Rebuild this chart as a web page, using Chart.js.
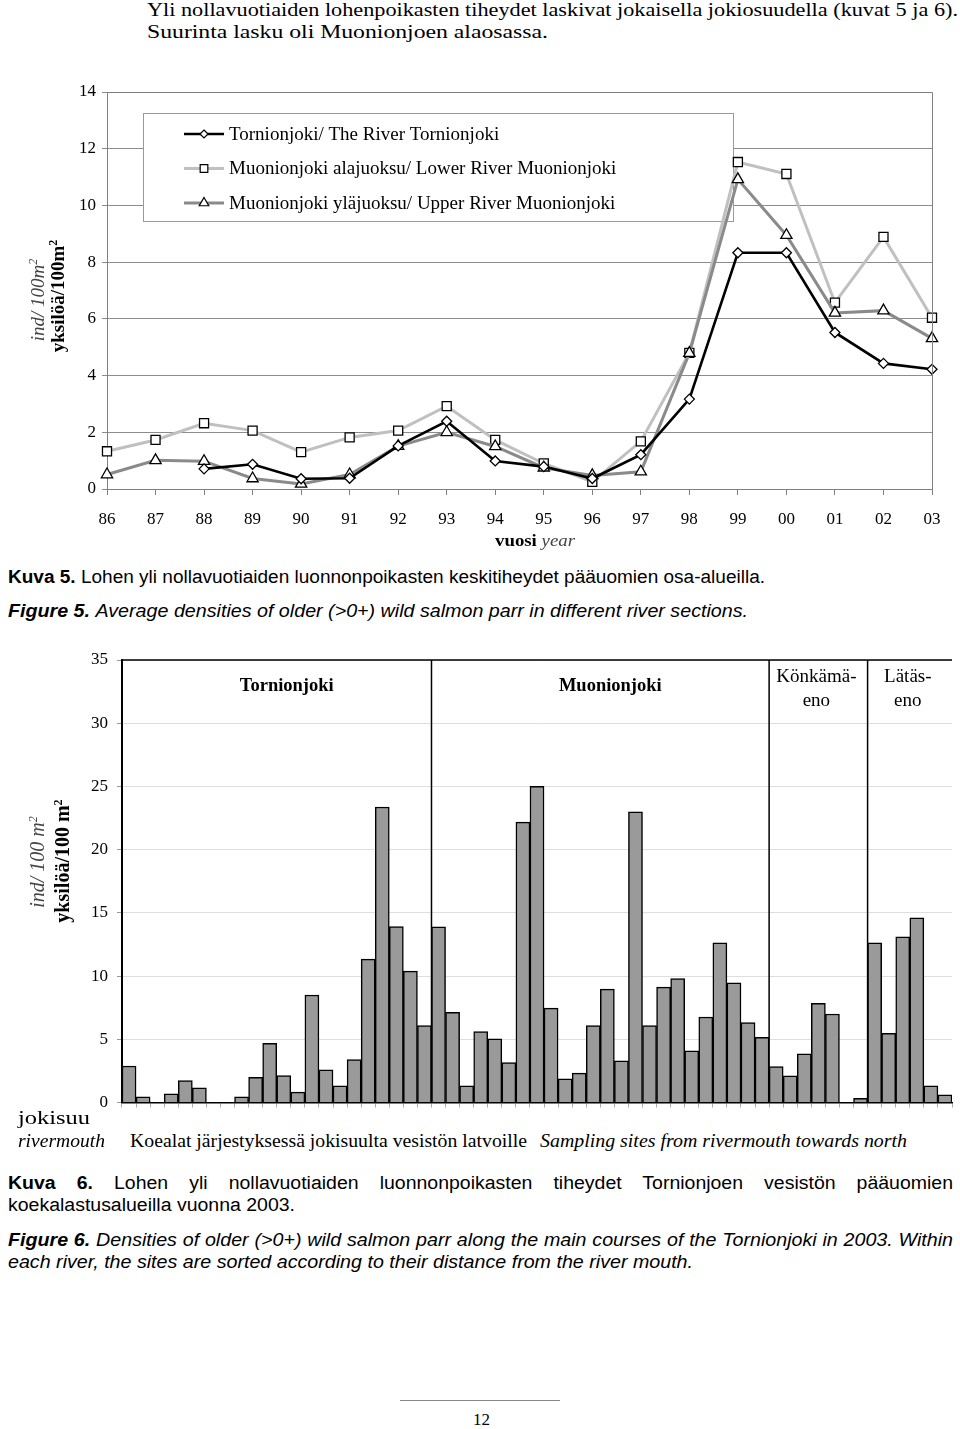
<!DOCTYPE html>
<html>
<head>
<meta charset="utf-8">
<script src="https://cdn.jsdelivr.net/npm/chart.js@4.4.1/dist/chart.umd.min.js"></script>
<style>
  body { margin: 0; background: #fff; }
  #page { position: relative; width: 960px; height: 1429px; overflow: hidden; color: #000; }
  .t { position: absolute; white-space: nowrap; transform-origin: left center; line-height: 1; }
  .serif { font-family: "Liberation Serif", "Times New Roman", serif; }
  .sans { font-family: "Liberation Sans", Arial, sans-serif; }
  .vt { position: absolute; white-space: nowrap; line-height: 1; font-size: 19px;
        font-family: "Liberation Serif", serif; transform: translate(-50%, -50%) rotate(-90deg); }
  .vt.it { font-style: italic; color: #444; }
  .vt.bd { font-weight: bold; }
  canvas { position: absolute; left: 0; }
</style>
</head>
<body>
<div id="page">
  <div class="t serif" style="font-size:19px;left:147px;top:0px" data-w="811">Yli nollavuotiaiden lohenpoikasten tiheydet laskivat jokaisella jokiosuudella (kuvat 5 ja 6).</div>
  <div class="t serif" style="font-size:19px;left:147px;top:22px" data-w="401">Suurinta lasku oli Muonionjoen alaosassa.</div>

  <canvas id="lineChart" width="960" height="500" style="top:60px"></canvas>
  <div class="vt it" style="left:37px;top:300px">ind/ 100m<sup style="font-size:12px">2</sup></div>
  <div class="vt bd" style="left:57px;top:296px">yksilöä/100m<sup style="font-size:12px">2</sup></div>
  <div class="t serif" style="font-size:17px;left:495px;top:532px" data-w="80"><b>vuosi</b> <i style="color:#444">year</i></div>

  <div class="t sans" style="font-size:18px;left:8px;top:568px" data-w="757"><b>Kuva 5.</b> Lohen yli nollavuotiaiden luonnonpoikasten keskitiheydet pääuomien osa-alueilla.</div>
  <div class="t sans" style="font-size:18px;left:8px;top:602px" data-w="740"><b><i>Figure 5.</i></b> <i>Average densities of older (&gt;0+) wild salmon parr in different river sections.</i></div>

  <canvas id="barChart" width="960" height="500" style="top:630px"></canvas>
  <div class="vt it" style="left:37px;top:862px;font-size:20px">ind/ 100 m<sup style="font-size:12px">2</sup></div>
  <div class="vt bd" style="left:62px;top:861px;font-size:20px">yksilöä/100 m<sup style="font-size:12px">2</sup></div>
  <div class="t serif" style="font-size:18px;left:18px;top:1109px" data-w="72">jokisuu</div>
  <div class="t serif" style="font-size:18px;left:18px;top:1132px;font-style:italic" data-w="87">rivermouth</div>
  <div class="t serif" style="font-size:18px;left:130px;top:1132px" data-w="397">Koealat järjestyksessä jokisuulta vesistön latvoille</div>
  <div class="t serif" style="font-size:18px;left:540px;top:1132px;font-style:italic" data-w="367">Sampling sites from rivermouth towards north</div>

  <div class="t sans" style="font-size:18px;left:8px;top:1174px" data-j="945" data-ref="k6b"><b>Kuva 6.</b> Lohen yli nollavuotiaiden luonnonpoikasten tiheydet Tornionjoen vesistön pääuomien</div>
  <div class="t sans" id="k6b" style="font-size:18px;left:8px;top:1196px" data-w="287">koekalastusalueilla vuonna 2003.</div>
  <div class="t sans" style="font-size:18px;left:8px;top:1231px;font-style:italic" data-j="945" data-ref="f6b"><b>Figure 6.</b> Densities of older (&gt;0+) wild salmon parr along the main courses of the Tornionjoki in 2003. Within</div>
  <div class="t sans" id="f6b" style="font-size:18px;left:8px;top:1253px;font-style:italic" data-w="685">each river, the sites are sorted according to their distance from the river mouth.</div>

  <div style="position:absolute;left:400px;top:1400px;width:160px;border-top:1px solid #888"></div>
  <div class="t serif" style="font-size:17px;left:473px;top:1411px">12</div>
</div>
<script>
// Kuva 5: keskitiheydet vuosittain
const years = ["86", "87", "88", "89", "90", "91", "92", "93", "94", "95", "96", "97", "98", "99", "00", "01", "02", "03"];
const tornionjoki = [null, null, 0.71, 0.87, 0.36, 0.38, 1.52, 2.39, 0.99, 0.79, 0.37, 1.21, 3.17, 8.33, 8.33, 5.52, 4.43, 4.22];
const muonioLower = [1.33, 1.73, 2.32, 2.06, 1.30, 1.82, 2.06, 2.92, 1.73, 0.90, 0.25, 1.68, 4.80, 11.53, 11.11, 6.57, 8.89, 6.04];
const muonioUpper = [0.51, 1.01, 0.98, 0.37, 0.18, 0.51, 1.51, 2.00, 1.50, 0.75, 0.48, 0.61, 4.79, 10.92, 8.95, 6.21, 6.29, 5.31];
const seriesNames = [
  "Tornionjoki/ The River Tornionjoki",
  "Muonionjoki alajuoksu/ Lower River Muonionjoki",
  "Muonionjoki yläjuoksu/ Upper River Muonionjoki",
];

// Kuva 6: koealat jokisuulta latvoille, 2003
const tornioSites = [2.89, 0.45, 0, 0.68, 1.74, 1.16, 0, 0, 0.45, 2.0, 4.68, 2.13, 0.82, 8.5, 2.58, 1.32, 3.39, 11.34, 23.37, 13.92, 10.39, 6.08];
const muonioSites = [13.9, 7.13, 1.32, 5.6, 5.03, 3.16, 22.18, 25.0, 7.47, 1.87, 2.32, 6.08, 8.97, 3.29, 23.0, 6.08, 9.13, 9.8, 4.08, 6.76, 12.63, 9.47, 6.32, 5.16];
const konkamaSites = [2.84, 2.1, 3.84, 7.84, 7.0, 0, 0.32];
const latasSites = [12.63, 5.47, 13.1, 14.6, 1.32, 0.6];
const sectionNames = [["Tornionjoki"], ["Muonionjoki"], ["Könkämä-", "eno"], ["Lätäs-", "eno"]];

const serif = '"Liberation Serif", "Times New Roman", serif';
const tickFont = { family: serif, size: 17 };

function drawMarker(ctx, style, r, x, y) {
  ctx.beginPath();
  if (style === "rectRot") {
    ctx.moveTo(x, y - r); ctx.lineTo(x + r, y); ctx.lineTo(x, y + r); ctx.lineTo(x - r, y);
  } else if (style === "rect") {
    const s = r * Math.SQRT1_2;
    ctx.rect(x - s, y - s, 2 * s, 2 * s);
  } else {
    const h = r * Math.sqrt(3) / 2;
    ctx.moveTo(x, y - r); ctx.lineTo(x + h, y + r / 2); ctx.lineTo(x - h, y + r / 2);
  }
  ctx.closePath();
  ctx.fill();
  ctx.stroke();
}

// legend inside the plot + frame on top/right
const boxLegend = {
  id: "boxLegend",
  beforeDatasetsDraw(chart) {
    const { ctx, chartArea } = chart;
    const top = chartArea.top + 21;
    ctx.save();
    ctx.fillStyle = "#fff";
    ctx.strokeStyle = "#9a9a9a";
    ctx.lineWidth = 1;
    ctx.fillRect(143, top, 590, 108);
    ctx.strokeRect(143.5, top + 0.5, 590, 108);
    chart.data.datasets.forEach((ds, i) => {
      const y = top + 21 + i * 34.5;
      ctx.strokeStyle = ds.borderColor;
      ctx.lineWidth = ds.borderWidth;
      ctx.beginPath();
      ctx.moveTo(184, y);
      ctx.lineTo(224, y);
      ctx.stroke();
      ctx.fillStyle = "#fff";
      ctx.strokeStyle = "#000";
      ctx.lineWidth = 1.2;
      drawMarker(ctx, ds.pointStyle, ds.pointRadius - 1, 204, y);
      ctx.fillStyle = "#000";
      ctx.font = "19px " + serif;
      ctx.textBaseline = "middle";
      ctx.fillText(ds.label, 229, y + 1);
    });
    ctx.restore();
  },
  afterDraw(chart) {
    const { ctx, chartArea } = chart;
    ctx.save();
    ctx.strokeStyle = "#808080";
    ctx.lineWidth = 1;
    ctx.beginPath();
    ctx.moveTo(chartArea.left, chartArea.top + 0.5);
    ctx.lineTo(chartArea.right + 0.5, chartArea.top + 0.5);
    ctx.lineTo(chartArea.right + 0.5, chartArea.bottom);
    ctx.stroke();
    ctx.restore();
  },
};

function markerSet(style, r) {
  return {
    pointStyle: style,
    pointRadius: r,
    pointBackgroundColor: "#fff",
    pointBorderColor: "#000",
    pointBorderWidth: 1.3,
  };
}

new Chart(document.getElementById("lineChart"), {
  type: "line",
  data: {
    labels: years,
    datasets: [
      { label: seriesNames[0], data: tornionjoki, borderColor: "#000", borderWidth: 2.6, order: 0, ...markerSet("rectRot", 5) },
      { label: seriesNames[1], data: muonioLower, borderColor: "#c0c0c0", borderWidth: 3, order: 2, ...markerSet("rect", 6.4) },
      { label: seriesNames[2], data: muonioUpper, borderColor: "#8a8a8a", borderWidth: 3, order: 1, ...markerSet("triangle", 6.5) },
    ],
  },
  options: {
    responsive: false,
    animation: false,
    devicePixelRatio: 1,
    layout: { padding: { top: 32, right: 28, left: 0, bottom: 0 } },
    plugins: { legend: { display: false }, tooltip: { enabled: false } },
    elements: { line: { tension: 0 } },
    scales: {
      x: {
        offset: false,
        grid: { drawOnChartArea: false, color: "#808080", tickLength: 6 },
        border: { color: "#808080" },
        ticks: { font: tickFont, color: "#000", padding: 14, maxRotation: 0, autoSkip: false },
        afterFit: (s) => { s.height = 71; },
      },
      y: {
        min: 0,
        max: 14,
        grid: { color: "#8c8c8c", tickLength: 5 },
        border: { color: "#808080" },
        ticks: { stepSize: 2, font: tickFont, color: "#000", padding: 6 },
        afterFit: (s) => { s.width = 107; },
      },
    },
  },
  plugins: [boxLegend],
});

const sections = [tornioSites, muonioSites, konkamaSites, latasSites];
const siteValues = sections.flat();
const siteLabels = siteValues.map((v, i) => String(i + 1));

// section dividers and names
const sectionMarks = {
  id: "sectionMarks",
  afterDatasetsDraw(chart) {
    const { ctx, chartArea } = chart;
    const x = chart.scales.x;
    ctx.save();
    ctx.strokeStyle = "#000";
    ctx.lineWidth = 1.5;
    ctx.beginPath();
    ctx.moveTo(chartArea.left, chartArea.top);
    ctx.lineTo(chartArea.right, chartArea.top);
    ctx.stroke();
    let start = 0;
    sections.forEach((sec, k) => {
      const end = start + sec.length;
      const x0 = start === 0 ? chartArea.left : (x.getPixelForValue(start - 1) + x.getPixelForValue(start)) / 2;
      const x1 = end === siteValues.length ? chartArea.right : (x.getPixelForValue(end - 1) + x.getPixelForValue(end)) / 2;
      if (end < siteValues.length) {
        ctx.beginPath();
        ctx.moveTo(x1, chartArea.top);
        ctx.lineTo(x1, chartArea.bottom);
        ctx.stroke();
      }
      const lines = sectionNames[k];
      ctx.fillStyle = "#000";
      ctx.textAlign = "center";
      ctx.textBaseline = "middle";
      if (lines.length === 1) {
        ctx.font = "bold 18.5px " + serif;
        ctx.fillText(lines[0], (x0 + x1) / 2 + 10, chartArea.top + 26);
      } else {
        ctx.font = "19px " + serif;
        lines.forEach((txt, j) => {
          ctx.fillText(txt, (x0 + x1) / 2 - 2, chartArea.top + 17 + j * 24);
        });
      }
      start = end;
    });
    ctx.restore();
  },
};

new Chart(document.getElementById("barChart"), {
  type: "bar",
  data: {
    labels: siteLabels,
    datasets: [{
      data: siteValues,
      backgroundColor: "#9a9a9a",
      borderColor: "#000",
      borderWidth: 1.5,
      barPercentage: 1,
      categoryPercentage: 1,
    }],
  },
  options: {
    responsive: false,
    animation: false,
    devicePixelRatio: 1,
    layout: { padding: { top: 30, right: 8, left: 0, bottom: 0 } },
    plugins: { legend: { display: false }, tooltip: { enabled: false } },
    scales: {
      x: {
        grid: { drawOnChartArea: false, color: "#aaa", tickLength: 5 },
        border: { color: "#000", width: 1.5 },
        ticks: { callback: () => "", autoSkip: false, maxRotation: 0 },
        afterFit: (s) => { s.height = 27.5; },
      },
      y: {
        min: 0,
        max: 35,
        grid: { color: "#dedede", tickLength: 5, tickColor: "#999" },
        border: { color: "#000", width: 2 },
        ticks: { stepSize: 5, font: tickFont, color: "#000", padding: 9 },
        afterFit: (s) => { s.width = 122; },
      },
    },
  },
  plugins: [sectionMarks],
});

// squeeze text lines to the measured widths
const scaleOf = {};
document.querySelectorAll(".t[data-w]").forEach((el) => {
  const k = +el.dataset.w / el.getBoundingClientRect().width;
  if (el.id) scaleOf[el.id] = k;
  el.style.transform = "scaleX(" + k + ")";
});
// justified first lines use the same face as the line below them
document.querySelectorAll(".t[data-j]").forEach((el) => {
  const k = scaleOf[el.dataset.ref] || 1;
  el.style.width = (+el.dataset.j / k) + "px";
  el.style.whiteSpace = "normal";
  el.style.textAlign = "justify";
  el.style.textAlignLast = "justify";
  el.style.transform = "scaleX(" + k + ")";
});
</script>
</body>
</html>
